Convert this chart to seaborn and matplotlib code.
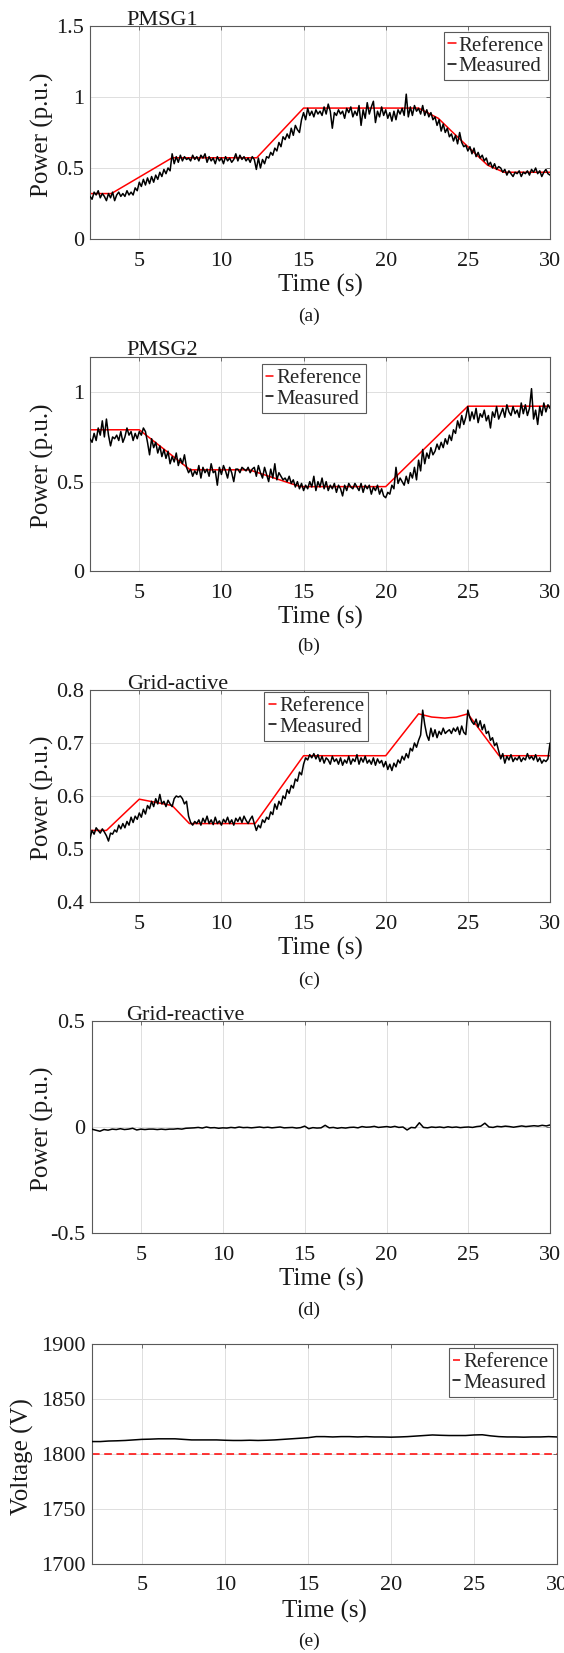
import numpy as np
import matplotlib
matplotlib.use("Agg")
import matplotlib.pyplot as plt
import seaborn as sns

# ---------------- data ----------------
xticks = [5, 10, 15, 20, 25, 30]
xtick_labels = ["5", "10", "15", "20", "25", "30"]

# (a) PMSG1
ref_a_t = [2, 3.3, 7, 12.15, 15, 22.0, 23.2, 24.0, 25.0, 26.2, 27.2, 30]
ref_a_v = [0.32, 0.32, 0.572, 0.572, 0.922, 0.922, 0.85, 0.76, 0.65, 0.52, 0.47, 0.47]
meas_a = [
    0.30, 0.28, 0.33, 0.31, 0.34, 0.29, 0.32, 0.30,
    0.27, 0.32, 0.29, 0.33, 0.27, 0.31, 0.33, 0.30,
    0.32, 0.30, 0.34, 0.31, 0.33, 0.31, 0.36, 0.34,
    0.40, 0.37, 0.42, 0.38, 0.43, 0.39, 0.44, 0.40,
    0.45, 0.42, 0.47, 0.44, 0.49, 0.46, 0.50, 0.48,
    0.60, 0.53, 0.58, 0.54, 0.59, 0.55, 0.58, 0.56,
    0.57, 0.55, 0.59, 0.56, 0.58, 0.55, 0.59, 0.57,
    0.60, 0.54, 0.58, 0.55, 0.57, 0.53, 0.58, 0.55,
    0.57, 0.53, 0.58, 0.55, 0.57, 0.54, 0.56, 0.60,
    0.55, 0.59, 0.56, 0.58, 0.55, 0.57, 0.54, 0.58,
    0.56, 0.49, 0.57, 0.50, 0.56, 0.53, 0.58, 0.57,
    0.61, 0.59, 0.64, 0.62, 0.68, 0.65, 0.72, 0.70,
    0.74, 0.71, 0.78, 0.73, 0.80, 0.77, 0.75, 0.84,
    0.89, 0.84, 0.92, 0.87, 0.90, 0.86, 0.91, 0.88,
    0.90, 0.87, 0.93, 0.88, 0.95, 0.90, 0.78, 0.89,
    0.87, 0.91, 0.88, 0.90, 0.85, 0.92, 0.89, 0.93,
    0.86, 0.90, 0.87, 0.94, 0.80, 0.91, 0.85, 0.96,
    0.88, 0.93, 0.97, 0.82, 0.90, 0.86, 0.93, 0.87,
    0.91, 0.85, 0.89, 0.83, 0.90, 0.84, 0.91, 0.88,
    0.92, 0.87, 1.02, 0.86, 0.93, 0.87, 0.94, 0.90,
    0.92, 0.88, 0.94, 0.87, 0.91, 0.86, 0.89, 0.84,
    0.86, 0.80, 0.84, 0.76, 0.81, 0.75, 0.78, 0.72,
    0.74, 0.69, 0.73, 0.67, 0.75, 0.68, 0.65, 0.66,
    0.62, 0.65, 0.60, 0.64, 0.58, 0.61, 0.57, 0.59,
    0.55, 0.57, 0.52, 0.54, 0.50, 0.53, 0.49, 0.51,
    0.50, 0.47, 0.49, 0.45, 0.48, 0.46, 0.44, 0.47,
    0.46, 0.48, 0.44, 0.47, 0.46, 0.48, 0.45, 0.49,
    0.47, 0.50, 0.46, 0.48, 0.44, 0.47, 0.49, 0.46,
    0.45,
]

# (b) PMSG2
ref_b_t = [2, 5, 8.1, 11.7, 14.8, 20, 25, 30]
ref_b_v = [0.79, 0.79, 0.566, 0.566, 0.472, 0.472, 0.922, 0.922]
meas_b = [
    0.74, 0.72, 0.77, 0.73, 0.80, 0.76, 0.84, 0.75,
    0.85, 0.76, 0.70, 0.75, 0.74, 0.76, 0.73, 0.78,
    0.72, 0.75, 0.80, 0.76, 0.78, 0.73, 0.77, 0.74,
    0.78, 0.76, 0.80, 0.78, 0.72, 0.65, 0.74, 0.69,
    0.72, 0.66, 0.70, 0.64, 0.68, 0.63, 0.67, 0.60,
    0.64, 0.61, 0.66, 0.59, 0.63, 0.60, 0.65, 0.58,
    0.55, 0.57, 0.53, 0.56, 0.54, 0.59, 0.52, 0.58,
    0.55, 0.57, 0.53, 0.60, 0.55, 0.56, 0.48, 0.58,
    0.54, 0.59, 0.56, 0.52, 0.58, 0.55, 0.50, 0.57,
    0.57, 0.55, 0.58, 0.57, 0.56, 0.58, 0.55, 0.57,
    0.58, 0.53, 0.59, 0.55, 0.52, 0.58, 0.54, 0.50,
    0.57, 0.52, 0.60, 0.51, 0.55, 0.53, 0.51, 0.52,
    0.50, 0.53, 0.49, 0.51, 0.47, 0.50, 0.46, 0.49,
    0.45, 0.48, 0.46, 0.50, 0.47, 0.53, 0.45, 0.50,
    0.47, 0.52, 0.46, 0.50, 0.45, 0.48, 0.46, 0.49,
    0.44, 0.48, 0.46, 0.42, 0.48, 0.45, 0.49, 0.47,
    0.46, 0.49, 0.47, 0.45, 0.49, 0.44, 0.48, 0.46,
    0.48, 0.43, 0.47, 0.45, 0.48, 0.43, 0.46, 0.42,
    0.41, 0.44, 0.43, 0.48, 0.46, 0.58, 0.49, 0.52,
    0.50, 0.48, 0.53, 0.49, 0.55, 0.52, 0.58, 0.51,
    0.62, 0.56, 0.68, 0.60, 0.66, 0.63, 0.69, 0.65,
    0.67, 0.71, 0.68, 0.72, 0.69, 0.74, 0.71, 0.76,
    0.73, 0.79, 0.77, 0.84, 0.80, 0.87, 0.82, 0.86,
    0.92, 0.84, 0.89, 0.85, 0.91, 0.83, 0.88, 0.86,
    0.90, 0.84, 0.87, 0.80, 0.89, 0.86, 0.92, 0.85,
    0.88, 0.91, 0.86, 0.93, 0.89, 0.87, 0.92, 0.88,
    0.90, 0.86, 0.94, 0.88, 0.93, 0.87, 0.91, 1.02,
    0.85, 0.90, 0.82, 0.92, 0.87, 0.94, 0.89, 0.93,
    0.91,
]

# (c) Grid-active
ref_c_t = [2, 3, 5, 7, 8.05, 12.05, 15, 20, 22, 22.8, 23.6, 24.3, 25, 26.9, 30]
ref_c_v = [0.535, 0.535, 0.594, 0.582, 0.548, 0.548, 0.676, 0.676,
           0.755, 0.749, 0.747, 0.749, 0.755, 0.676, 0.676]
meas_c = [
    0.520, 0.535, 0.528, 0.540, 0.535, 0.530, 0.538, 0.532,
    0.525, 0.515, 0.530, 0.528, 0.536, 0.532, 0.545, 0.538,
    0.548, 0.540, 0.552, 0.545, 0.560, 0.550, 0.562, 0.556,
    0.568, 0.560, 0.575, 0.566, 0.582, 0.576, 0.590, 0.580,
    0.595, 0.585, 0.603, 0.585, 0.590, 0.580, 0.592, 0.585,
    0.580, 0.595, 0.600, 0.598, 0.600, 0.595, 0.585, 0.590,
    0.562, 0.550, 0.545, 0.552, 0.548, 0.555, 0.545, 0.558,
    0.550, 0.562, 0.548, 0.555, 0.546, 0.560, 0.548, 0.553,
    0.545, 0.556, 0.550, 0.560, 0.548, 0.555, 0.545, 0.558,
    0.552, 0.560, 0.550, 0.562, 0.554, 0.548, 0.556, 0.562,
    0.548, 0.535, 0.545, 0.540, 0.555, 0.550, 0.560, 0.556,
    0.570, 0.565, 0.585, 0.575, 0.590, 0.583, 0.600, 0.595,
    0.612, 0.605, 0.620, 0.615, 0.632, 0.628, 0.645, 0.640,
    0.660, 0.672, 0.668, 0.678, 0.672, 0.680, 0.670, 0.678,
    0.665, 0.675, 0.662, 0.672, 0.668, 0.660, 0.675, 0.665,
    0.670, 0.660, 0.672, 0.658, 0.668, 0.662, 0.675, 0.660,
    0.670, 0.665, 0.678, 0.660, 0.672, 0.664, 0.675, 0.662,
    0.668, 0.660, 0.672, 0.658, 0.670, 0.662, 0.667, 0.655,
    0.665, 0.650, 0.660, 0.648, 0.662, 0.655, 0.668, 0.662,
    0.675, 0.668, 0.680, 0.672, 0.690, 0.685, 0.700, 0.692,
    0.705, 0.715, 0.762, 0.735, 0.715, 0.705, 0.728, 0.712,
    0.725, 0.710, 0.722, 0.716, 0.728, 0.718, 0.722, 0.725,
    0.718, 0.728, 0.722, 0.730, 0.716, 0.732, 0.720, 0.716,
    0.762, 0.748, 0.740, 0.735, 0.745, 0.730, 0.742, 0.725,
    0.735, 0.718, 0.722, 0.705, 0.710, 0.695, 0.700, 0.685,
    0.670, 0.680, 0.662, 0.675, 0.668, 0.678, 0.665, 0.672,
    0.668, 0.675, 0.665, 0.672, 0.668, 0.680, 0.670, 0.675,
    0.668, 0.678, 0.665, 0.672, 0.662, 0.668, 0.665, 0.670,
    0.700,
]

# (d) Grid-reactive
meas_d = [
    -0.010, -0.015, -0.020, -0.012,
    -0.015, -0.010, -0.012, -0.008,
    -0.012, -0.010, -0.006, -0.014,
    -0.010, -0.012, -0.010, -0.010,
    -0.012, -0.010, -0.012, -0.010,
    -0.010, -0.008, -0.010, -0.006,
    -0.005, -0.004, -0.002, -0.005,
    0.000, -0.004, -0.003, -0.006,
    -0.004, -0.005, -0.002, -0.004,
    0.000, -0.003, -0.002, -0.004,
    -0.002, 0.000, -0.003, -0.001,
    -0.004, -0.002, 0.000, -0.004,
    -0.003, -0.002, -0.005, -0.003,
    0.004, -0.008, -0.003, -0.005,
    -0.004, 0.008, -0.004, -0.002,
    -0.006, -0.003, -0.005, -0.002,
    -0.001, -0.004, 0.002, -0.001,
    0.000, 0.003, -0.002, 0.000,
    0.002, -0.001, 0.003, -0.002,
    0.000, -0.014, -0.002, -0.004,
    0.020, -0.002, -0.004, 0.000,
    -0.002, 0.000, -0.003, 0.001,
    -0.002, 0.000, -0.003, -0.001,
    0.000, -0.002, 0.002, 0.004,
    0.018, 0.000, -0.002, 0.003,
    0.001, 0.004, 0.002, -0.001,
    0.002, 0.005, 0.002, 0.004,
    0.006, 0.004, 0.008, 0.005,
    0.010,
]

# (e) DC voltage
ref_e_t = [2, 30]
ref_e_v = [1800, 1800]
meas_e = [
    1811.3, 1811.3, 1811.8, 1812.0, 1812.3, 1812.8, 1813.3, 1813.5,
    1813.8, 1813.8, 1813.8, 1813.3, 1812.8, 1812.8, 1812.8, 1812.8,
    1812.5, 1812.3, 1812.3, 1812.5, 1812.3, 1812.5, 1812.8, 1813.3,
    1813.8, 1814.3, 1814.8, 1815.8, 1815.8, 1815.5, 1815.8, 1815.8,
    1815.5, 1815.8, 1815.5, 1815.5, 1815.3, 1815.5, 1815.8, 1816.3,
    1816.8, 1817.3, 1817.0, 1816.8, 1816.8, 1816.8, 1817.3, 1817.5,
    1816.5, 1815.8, 1815.5, 1815.5, 1815.3, 1815.5, 1815.5, 1815.8,
    1815.5,
]

t_fast = np.linspace(2, 30, len(meas_a))
t_d = np.linspace(2, 30, len(meas_d))
t_e = np.linspace(2, 30, len(meas_e))

# ---------------- style ----------------
sns.set_style("white")
plt.rcParams["font.family"] = ["Liberation Serif", "DejaVu Serif"]
plt.rcParams["axes.unicode_minus"] = False

W, H = 564, 1653
fig = plt.figure(figsize=(W / 100, H / 100), dpi=100)


def add_axes(l, r, t, b):
    return fig.add_axes([l / W, 1 - b / H, (r - l) / W, (b - t) / H])


def style(ax, ylim, yticks, ylabels, ylabel, ylab_x):
    ax.set_xlim(2, 30)
    ax.set_ylim(*ylim)
    ax.set_xticks(xticks)
    ax.set_xticklabels(xtick_labels)
    ax.set_yticks(yticks)
    ax.set_yticklabels(ylabels)
    ax.grid(True, color="#dedede", lw=0.7)
    ax.set_axisbelow(True)
    for s in ax.spines.values():
        s.set_visible(True)
        s.set_color("0.35")
        s.set_linewidth(0.8)
    ax.tick_params(axis="both", direction="in", length=3, width=0.6,
                   color="0.35", labelsize=16, labelcolor="0.1",
                   top=True, right=True)
    ax.tick_params(axis="x", pad=9)
    ax.tick_params(axis="y", pad=4.5)
    ax.set_xlabel("Time (s)", fontsize=18, color="0.1")
    ax.set_ylabel(ylabel, fontsize=18, color="0.1")
    ax.xaxis.set_label_coords(0.5, -0.165)
    ax.yaxis.set_label_coords(ylab_x, 0.49)


def title(ax, x, s):
    ax.text(x, 1.006, s, transform=ax.transAxes, fontsize=16,
            ha="left", va="baseline", color="0.1")


def legend(ax, x, y):
    leg = ax.legend(loc="upper left", bbox_to_anchor=(x, y), borderaxespad=0,
                    fontsize=15, frameon=True, fancybox=False, framealpha=1,
                    edgecolor="0.35", handlelength=0.35, handletextpad=0.15,
                    borderpad=0.2, labelspacing=0.05)
    leg.get_frame().set_linewidth(0.8)


def draw(ax, rt, rv, mt, mv, dashed=False):
    if rt is not None:
        sns.lineplot(x=rt, y=rv, ax=ax, color="#ff0000", lw=1.1,
                     linestyle=(0, (5, 3)) if dashed else "-",
                     label="Reference", legend=False, errorbar=None, zorder=2)
    sns.lineplot(x=mt, y=mv, ax=ax, color="black", lw=1.1,
                 label="Measured" if rt is not None else None,
                 legend=False, errorbar=None, zorder=3)


# (a)
ax = add_axes(90, 550, 26, 239)
draw(ax, ref_a_t, ref_a_v, t_fast, meas_a)
style(ax, (0, 1.5), [0, 0.5, 1, 1.5], ["0", "0.5", "1", "1.5"], "Power (p.u.)", -0.078)
title(ax, 0.08, "PMSG1")
legend(ax, 0.770, 0.973)

# (b)
ax = add_axes(90, 550, 356.5, 571)
draw(ax, ref_b_t, ref_b_v, t_fast, meas_b)
style(ax, (0, 1.2), [0, 0.5, 1], ["0", "0.5", "1"], "Power (p.u.)", -0.078)
title(ax, 0.08, "PMSG2")
legend(ax, 0.374, 0.964)

# (c)
ax = add_axes(90, 550, 690, 902)
draw(ax, ref_c_t, ref_c_v, t_fast, meas_c)
style(ax, (0.4, 0.8), [0.4, 0.5, 0.6, 0.7, 0.8],
      ["0.4", "0.5", "0.6", "0.7", "0.8"], "Power (p.u.)", -0.078)
title(ax, 0.08, "Grid-active")
legend(ax, 0.379, 0.989)

# (d)
ax = add_axes(91.7, 550.4, 1021, 1233)
draw(ax, None, None, t_d, meas_d)
style(ax, (-0.5, 0.5), [-0.5, 0, 0.5], ["-0.5", "0", "0.5"], "Power (p.u.)", -0.082)
title(ax, 0.076, "Grid-reactive")

# (e)
ax = add_axes(92, 557, 1344, 1564)
draw(ax, ref_e_t, ref_e_v, t_e, meas_e, dashed=True)
style(ax, (1700, 1900), [1700, 1750, 1800, 1850, 1900],
      ["1700", "1750", "1800", "1850", "1900"], "Voltage (V)", -0.124)
legend(ax, 0.767, 0.980)

# captions
for lab, yc in [("(a)", 316.7), ("(b)", 646.7), ("(c)", 980), ("(d)", 1310), ("(e)", 1641.7)]:
    fig.text(309 / W, 1 - yc / H, lab, ha="center", va="center", fontsize=14, color="0.1")

fig.savefig("out.png", dpi=100)
